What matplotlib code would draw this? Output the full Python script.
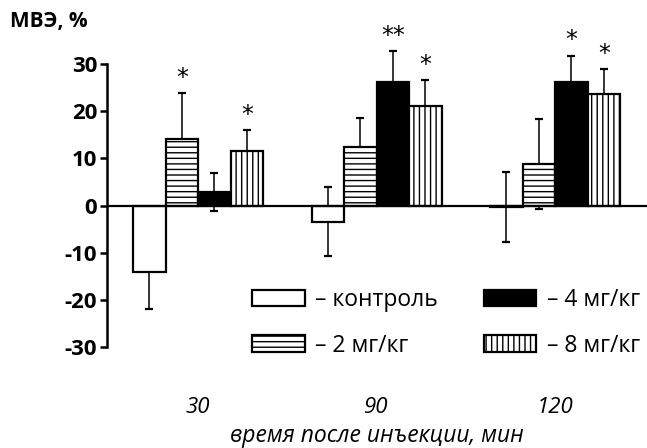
import numpy as np
import matplotlib.pyplot as plt
from matplotlib.patches import Patch

plt.rcParams['font.family'] = ['Open Sans', 'DejaVu Sans']
plt.rcParams['hatch.linewidth'] = 1.0

groups = ['30', '90', '120']
series = ['– контроль', '– 2 мг/кг', '– 4 мг/кг', '– 8 мг/кг']
control = [-14.1, -3.4, -0.3]
control_err = [7.9, 7.4, 7.5]
mg2 = [14.1, 12.5, 8.8]
mg2_err = [9.8, 6.1, 9.6]
mg4 = [2.9, 26.2, 26.2]
mg4_err = [4.0, 6.6, 5.6]
mg8 = [11.6, 21.1, 23.6]
mg8_err = [4.4, 5.5, 5.3]
mg2_marks = ['*', '', '']
mg4_marks = ['', '**', '*']
mg8_marks = ['*', '*', '*']

fig = plt.figure(figsize=(6.47, 4.48), dpi=100)
ax = fig.add_axes([0.1654, 0.2254, 0.8346, 0.6317])

x = np.arange(len(groups))
w = 0.182
styles = [
    dict(facecolor='white', hatch=None),
    dict(facecolor='white', hatch='---'),
    dict(facecolor='black', hatch=None),
    dict(facecolor='white', hatch='|||'),
]
vals = [control, mg2, mg4, mg8]
errs = [control_err, mg2_err, mg4_err, mg8_err]
marks = [None, mg2_marks, mg4_marks, mg8_marks]

for i in range(4):
    xs = x + (i - 1.5) * w
    eb = ax.errorbar(xs, vals[i], yerr=errs[i], fmt='none', ecolor='black',
                     elinewidth=1.1, capsize=3, capthick=1.6, zorder=1)
    for art in eb.lines[1] + eb.lines[2]:
        art.set_clip_on(False)
    ax.bar(xs, vals[i], w, edgecolor='black', linewidth=1.6, zorder=2,
           **styles[i])
    if marks[i] is not None:
        for xi, v, e, m in zip(xs, vals[i], errs[i], marks[i]):
            if m:
                ax.annotate(m, (xi, v + e), xytext=(0, 11), textcoords='offset points',
                            ha='center', va='center', fontsize=17,
                            family=['DejaVu Sans'], annotation_clip=False)

ax.axhline(0, color='black', linewidth=1.6, zorder=3)

ax.set_xlim(-0.51, 2.515)
ax.set_ylim(-30, 30)
ax.set_yticks([-30, -20, -10, 0, 10, 20, 30])
ax.set_yticklabels(['-30', '-20', '-10', '0', '10', '20', '30'], fontweight='bold', fontsize=16)
ax.tick_params(axis='y', length=5, width=1.8, pad=2)
ax.set_xticks(x)
ax.set_xticklabels(groups, fontstyle='italic', fontsize=16)
ax.tick_params(axis='x', length=0, pad=36)
ax.set_xlabel('время после инъекции, мин', fontstyle='italic', fontsize=16.5, labelpad=4)

for s in ['top', 'right', 'bottom']:
    ax.spines[s].set_visible(False)
ax.spines['left'].set_linewidth(1.8)

fig.text(10 / 647, 1 - 22 / 448, 'МВЭ, %', fontsize=15, fontweight='bold', va='center', ha='left')

handles = [Patch(edgecolor='black', linewidth=1.6, **styles[i], label=series[i]) for i in range(4)]
ax.legend(handles, series, ncol=2,
          loc='upper left', bbox_to_anchor=(252 / 647, 1 - 288 / 448),
          bbox_transform=fig.transFigure, frameon=False, fontsize=16.5,
          handlelength=2.3, handleheight=0.74, handletextpad=0.45,
          columnspacing=2.0, labelspacing=0.95, borderpad=0, borderaxespad=0)

fig.savefig('out.png', dpi=100)
